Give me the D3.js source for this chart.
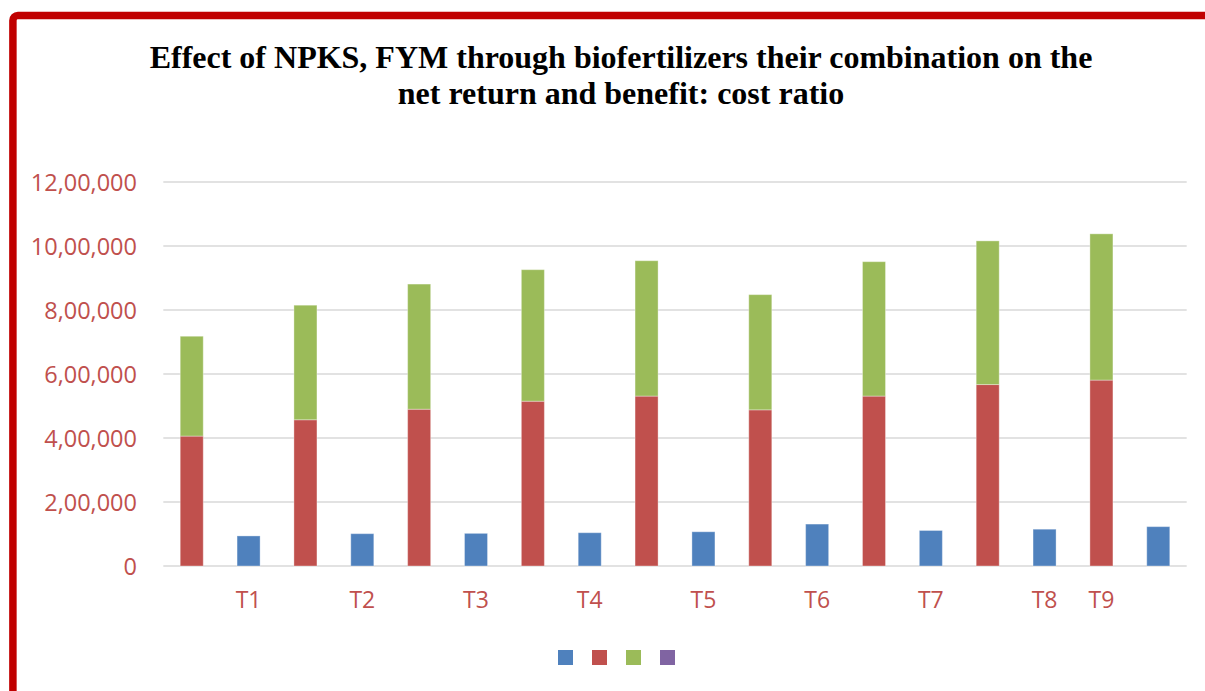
<!DOCTYPE html>
<html>
<head>
<meta charset="utf-8">
<script src="https://cdn.jsdelivr.net/npm/d3@7"></script>
<style>
  html, body { margin: 0; padding: 0; background: #fff; }
  svg { display: block; }
</style>
</head>
<body>
<svg id="chart" width="1205" height="691"></svg>
<script>
// ---- data ----
const titleLines = [
  "Effect of NPKS, FYM through biofertilizers their combination on the",
  "net return and benefit: cost ratio"
];
// 18 category slots on the x axis (labels as they appear)
const slotLabels = ["", "T1", "", "T2", "", "T3", "", "T4", "", "T5", "", "T6", "", "T7", "", "T8", "T9", ""];
// blue series (cost of cultivation) – odd slots
const costSeries = [null, 94000, null, 101000, null, 102000, null, 104000, null, 107000, null, 131000, null, 111000, null, 115000, null, 123000];
// red series (gross return) – even slots
const grossSeries = [406000, null, 457000, null, 490000, null, 515000, null, 531000, null, 488000, null, 531000, null, 567000, null, 581000, null];
// green series (net return), stacked on red – even slots
const netSeries = [312000, null, 358000, null, 391000, null, 411000, null, 423000, null, 360000, null, 420000, null, 449000, null, 457000, null];
const yTicks = [0, 200000, 400000, 600000, 800000, 1000000, 1200000];
const legendColors = ["#4F81BD", "#C0504D", "#9BBB59", "#8064A2"];

// ---- layout ----
const svg = d3.select("#chart");
const plot = { left: 163.3, right: 1186.7, top: 182, bottom: 566 };

// red frame
svg.append("rect")
  .attr("x", 12.9).attr("y", 15.5)
  .attr("width", 1400).attr("height", 1000)
  .attr("rx", 5).attr("ry", 5)
  .attr("fill", "none")
  .attr("stroke", "#C00000")
  .attr("stroke-width", 7.5);

// title
svg.append("g").selectAll("text")
  .data(titleLines)
  .join("text")
  .attr("x", 621)
  .attr("y", (d, i) => 68 + i * 36)
  .attr("text-anchor", "middle")
  .attr("font-family", "'Liberation Serif', 'Times New Roman', serif")
  .attr("font-weight", "bold")
  .attr("font-size", 32)
  .attr("fill", "#000")
  .text(d => d);

// scales
const x = d3.scaleBand()
  .domain(d3.range(slotLabels.length))
  .range([plot.left, plot.right])
  .paddingInner(0.595)
  .paddingOuter(0.2975);

const y = d3.scaleLinear()
  .domain([0, 1200000])
  .range([plot.bottom, plot.top]);

function indianFormat(v) {
  if (v === 0) return "0";
  const s = String(Math.round(v));
  const last3 = s.slice(-3);
  let rest = s.slice(0, -3);
  const parts = [];
  while (rest.length > 2) { parts.unshift(rest.slice(-2)); rest = rest.slice(0, -2); }
  if (rest.length) parts.unshift(rest);
  return parts.join(",") + "," + last3;
}

// gridlines
svg.append("g")
  .selectAll("line")
  .data(yTicks)
  .join("line")
  .attr("x1", plot.left).attr("x2", plot.right)
  .attr("y1", d => y(d)).attr("y2", d => y(d))
  .attr("stroke", "#D9D9D9")
  .attr("stroke-width", 1.5);

// y axis labels
const yAxis = svg.append("g")
  .attr("transform", `translate(${137},0)`)
  .call(d3.axisLeft(y).tickValues(yTicks).tickFormat(indianFormat).tickSize(0).tickPadding(0));
yAxis.select(".domain").remove();
yAxis.selectAll("text")
  .attr("font-family", "'Open Sans', 'Noto Sans', sans-serif")
  .attr("font-size", 23.5)
  .attr("fill", "#C0504D")
  .attr("dy", "0.36em");

// bars
const bars = svg.append("g");
// red
bars.selectAll("rect.gross")
  .data(grossSeries.map((v, i) => ({ v, i })).filter(d => d.v != null))
  .join("rect")
  .attr("class", "gross")
  .attr("x", d => x(d.i))
  .attr("width", x.bandwidth())
  .attr("y", d => y(d.v))
  .attr("height", d => y(0) - y(d.v))
  .attr("fill", "#C0504D");
// green stacked on red
bars.selectAll("rect.net")
  .data(netSeries.map((v, i) => ({ v, i, base: grossSeries[i] })).filter(d => d.v != null))
  .join("rect")
  .attr("class", "net")
  .attr("x", d => x(d.i))
  .attr("width", x.bandwidth())
  .attr("y", d => y(d.base + d.v))
  .attr("height", d => y(d.base) - y(d.base + d.v))
  .attr("fill", "#9BBB59");
// blue
bars.selectAll("rect.cost")
  .data(costSeries.map((v, i) => ({ v, i })).filter(d => d.v != null))
  .join("rect")
  .attr("class", "cost")
  .attr("x", d => x(d.i))
  .attr("width", x.bandwidth())
  .attr("y", d => y(d.v))
  .attr("height", d => y(0) - y(d.v))
  .attr("fill", "#4F81BD");
// faint light edge like the original
bars.selectAll("rect")
  .attr("stroke", "#ffffff")
  .attr("stroke-opacity", 0.35)
  .attr("stroke-width", 1);

// x axis labels
const xAxis = svg.append("g")
  .attr("transform", `translate(0,${plot.bottom})`)
  .call(d3.axisBottom(x).tickFormat(i => slotLabels[i]).tickSize(0).tickPadding(0));
xAxis.select(".domain").remove();
xAxis.selectAll("text")
  .attr("font-family", "'Open Sans', 'Noto Sans', sans-serif")
  .attr("font-size", 23)
  .attr("fill", "#C0504D")
  .attr("dy", null)
  .attr("y", 42);

// legend (series names are empty in the original)
svg.append("g")
  .selectAll("rect")
  .data(legendColors)
  .join("rect")
  .attr("x", (d, i) => 558 + i * 34)
  .attr("y", 650)
  .attr("width", 15)
  .attr("height", 15)
  .attr("fill", d => d);
</script>
</body>
</html>
